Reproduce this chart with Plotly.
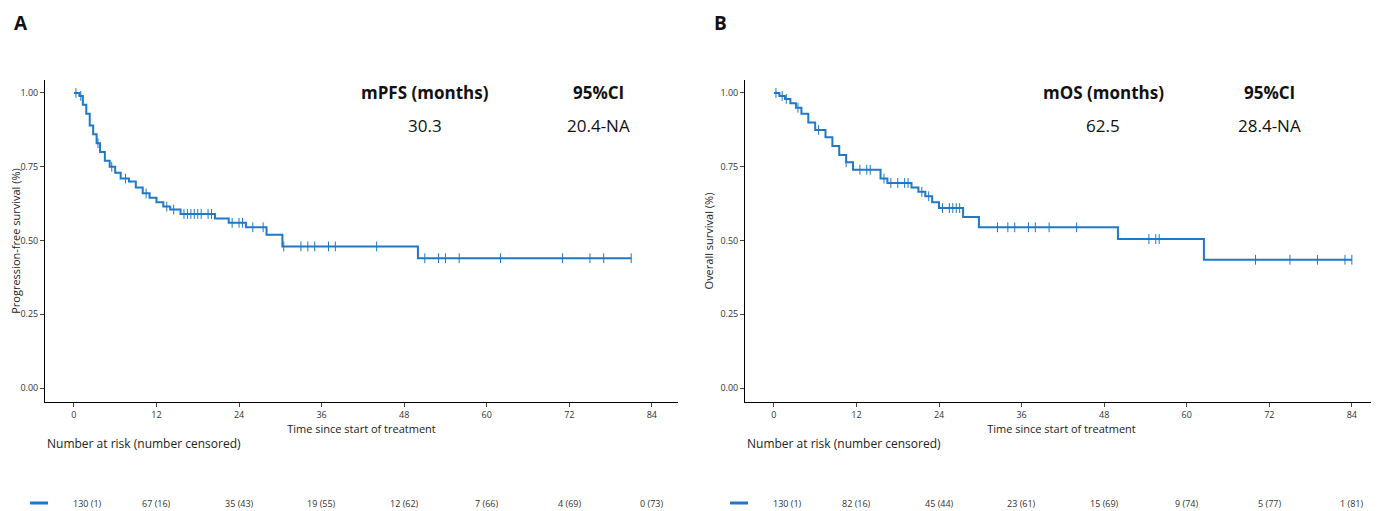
import plotly.graph_objects as go

# PFS step data (time in months, survival)
pfs_t = [0, 0.8, 1.3, 1.8, 2.3, 2.8, 3.3, 3.8, 4.5, 5.2, 6.0, 6.8, 8.0, 9.0, 10.0, 11.0, 12.0, 13.0, 14.0, 15.5, 20.5, 22.5, 25.0, 28.0, 30.3, 50.0, 81.0]
pfs_s = [1.0, 0.99, 0.96, 0.93, 0.89, 0.86, 0.83, 0.80, 0.77, 0.75, 0.73, 0.71, 0.70, 0.68, 0.66, 0.645, 0.63, 0.615, 0.605, 0.59, 0.575, 0.56, 0.545, 0.52, 0.48, 0.44, 0.44]
pfs_ct = [0.3, 1.0, 3.5, 5.5, 7.5, 10.5, 13.5, 14.5, 16, 16.5, 17, 17.5, 18, 18.5, 19.5, 20, 23, 24, 24.5, 26, 27.5, 30.5, 33, 34, 35, 37, 38, 44, 51, 53, 54, 56, 62, 71, 75, 77, 81]
# OS step data
os_t = [0, 0.8, 1.6, 2.4, 3.2, 4.0, 5.0, 6.0, 7.5, 8.5, 9.5, 10.5, 11.5, 15.5, 16.5, 20.0, 21.0, 22.0, 23.0, 24.0, 27.5, 29.8, 50.0, 62.5, 84.0]
os_s = [1.0, 0.99, 0.98, 0.965, 0.95, 0.93, 0.90, 0.875, 0.85, 0.82, 0.79, 0.765, 0.74, 0.71, 0.695, 0.68, 0.665, 0.65, 0.63, 0.61, 0.58, 0.545, 0.505, 0.435, 0.435]
os_ct = [0.3, 1.2, 1.8, 3.5, 6.5, 10.5, 12.5, 13.5, 14, 16, 17, 18, 19, 19.5, 21.5, 22.5, 24.5, 25.5, 26, 26.5, 27, 32.5, 34, 35, 37, 38, 40, 44, 54.5, 55.5, 56, 70, 75, 79, 83, 84]

xticks = [0, 12, 24, 36, 48, 60, 72, 84]
risk_pfs = ["130 (1)", "67 (16)", "35 (43)", "19 (55)", "12 (62)", "7 (66)", "4 (69)", "0 (73)"]
risk_os = ["130 (1)", "82 (16)", "45 (44)", "23 (61)", "15 (69)", "9 (74)", "5 (77)", "1 (81)"]

BLUE = "#1f78c8"
OFF = 8  # page body margin
W, H = 1379 - OFF, 511 - OFF

def px(x):
    return (x - OFF) / W

def py(y):
    return 1 - (y - OFF) / H

def surv_at(ts, ss, t):
    v = ss[0]
    for ti, si in zip(ts, ss):
        if ti <= t:
            v = si
    return v

fig = go.Figure()
panels = [("x", "y", pfs_t, pfs_s, pfs_ct), ("x2", "y2", os_t, os_s, os_ct)]
for xa, ya, ts, ss, ct in panels:
    fig.add_trace(go.Scatter(x=ts, y=ss, mode="lines", line=dict(color=BLUE, width=2, shape="hv"),
                             xaxis=xa, yaxis=ya, showlegend=False, hoverinfo="skip"))
    fig.add_trace(go.Scatter(x=ct, y=[surv_at(ts, ss, c) for c in ct], mode="markers",
                             marker=dict(symbol="line-ns", size=7, line=dict(color=BLUE, width=1)),
                             xaxis=xa, yaxis=ya, showlegend=False, hoverinfo="skip"))

axcommon = dict(range=[-4.2, 87.8], tickvals=xticks, ticks="outside", ticklen=4, showline=True,
                linecolor="black", linewidth=1, showgrid=False, zeroline=False,
                tickfont=dict(size=9, color="#333"), title=dict(text="Time since start of treatment", font=dict(size=11, color="#222"), standoff=2))
aycommon = dict(range=[-0.047, 1.044], tickvals=[0, 0.25, 0.5, 0.75, 1.0], ticktext=["0.00", "0.25", "0.50", "0.75", "1.00"],
                ticks="outside", ticklen=4, showline=True, linecolor="black", linewidth=1, showgrid=False, zeroline=False,
                tickfont=dict(size=9, color="#333"))
fig.update_layout(
    width=W, height=H, margin=dict(l=0, r=0, t=0, b=0),
    paper_bgcolor="white", plot_bgcolor="white", font=dict(family="Open Sans"),
    xaxis=dict(domain=[px(45), px(678)], anchor="y", **axcommon),
    xaxis2=dict(domain=[px(745), px(1378)], anchor="y2", **axcommon),
    yaxis=dict(domain=[py(402), py(80)], anchor="x", title=dict(text="Progression-free survival (%)", font=dict(size=11, color="#222"), standoff=4), **aycommon),
    yaxis2=dict(domain=[py(402), py(80)], anchor="x2", title=dict(text="Overall survival (%)", font=dict(size=11, color="#222"), standoff=4), **aycommon),
)

ann = []
def txt(x, y, t, xref, yref, size, bold=False, xanchor="center", color="#111", yanchor="middle"):
    ann.append(dict(x=x, y=y, xref=xref, yref=yref, text=f"<b>{t}</b>" if bold else t, showarrow=False,
                    xanchor=xanchor, yanchor=yanchor, font=dict(size=size, color=color)))

txt(px(12), 1.0, "A", "paper", "paper", 19, True, "left", yanchor="top")
txt(px(712), 1.0, "B", "paper", "paper", 19, True, "left", yanchor="top")
for xr, yr, stats, risk, lx, c1, c2, sx in [
        ("x", "y", ("mPFS (months)", "30.3", "20.4-NA"), risk_pfs, 45, 51.0, 76.2, 30),
        ("x2", "y2", ("mOS (months)", "62.5", "28.4-NA"), risk_os, 745, 47.9, 72.1, 730)]:
    txt(c1, 1.0, stats[0], xr, yr, 17, True)
    txt(c1, 0.89, stats[1], xr, yr, 17)
    txt(c2, 1.0, "95%CI", xr, yr, 17, True)
    txt(c2, 0.89, stats[2], xr, yr, 17)
    txt(px(lx), py(443), "Number at risk (number censored)", "paper", "paper", 12, False, "left", "#222")
    for i, (t, r) in enumerate(zip(xticks, risk)):
        txt(t + (2 if i == 0 else 0), py(503), r, xr, "paper", 9, False, "center", "#333")
    fig.add_shape(type="line", xref="paper", yref="paper", x0=px(sx), x1=px(sx + 18),
                  y0=py(503), y1=py(503), line=dict(color=BLUE, width=3))
fig.update_layout(annotations=ann)

fig.write_html("out.html")
